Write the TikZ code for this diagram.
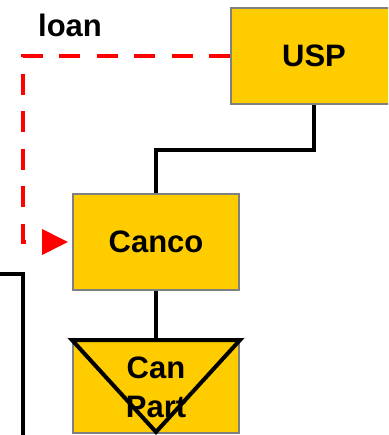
\documentclass[tikz,border=0pt]{standalone}
\usepackage{fontspec}
\setmainfont{Liberation Sans}
\usetikzlibrary{arrows.meta}
\definecolor{boxgold}{HTML}{FFCC00}
\definecolor{boxedge}{HTML}{808080}
\begin{document}
\begin{tikzpicture}[x=1pt,y=-1pt,
  entity/.style={draw=boxedge, line width=2pt, fill=boxgold,
    minimum width=166pt, minimum height=96pt, inner sep=0pt,
    font=\bfseries\fontsize{31}{39}\selectfont, align=center},
  ownline/.style={line width=4pt, black, line join=miter},
  loanline/.style={red, line width=4pt, dash pattern=on 21pt off 16.5pt,
    -{Triangle[length=26pt,width=25pt]}, shorten >=4pt},
  tagtext/.style={font=\bfseries\fontsize{31}{39}\selectfont, inner sep=0pt}]
  \useasboundingbox (0,0) rectangle (388,435);
  \clip (0,0) rectangle (388,435);

  % entities
  \node[entity] (usp) at (314,56) {USP};
  \node[entity] (canco) at (156,242) {Canco};
  \node[entity, minimum height=92pt] (canpart) at (156,387) {Can\\Part};

  % partnership marker on Can Part
  \draw[ownline] (72,340) -- (240,340) -- (156,432) -- cycle;

  % ownership connectors
  \draw[ownline] (usp.south) -- ++(0,45) -| (canco.north);
  \draw[ownline] (canco.south) -- (canpart.north);

  % line entering from the left
  \coordinate (feedin) at (-3,274);
  \coordinate (feeddown) at (22.5,440);
  \draw[ownline] (feedin) -| (feeddown);

  % loan from USP to Canco
  \coordinate (loanturn1) at (23,56);
  \coordinate (loanturn2) at (23,242);
  \draw[loanline] (usp.west) -- (loanturn1) -- (loanturn2) -- (canco.west);
  \node[tagtext, anchor=base] (loantag) at (70,37) {loan};
\end{tikzpicture}
\end{document}
